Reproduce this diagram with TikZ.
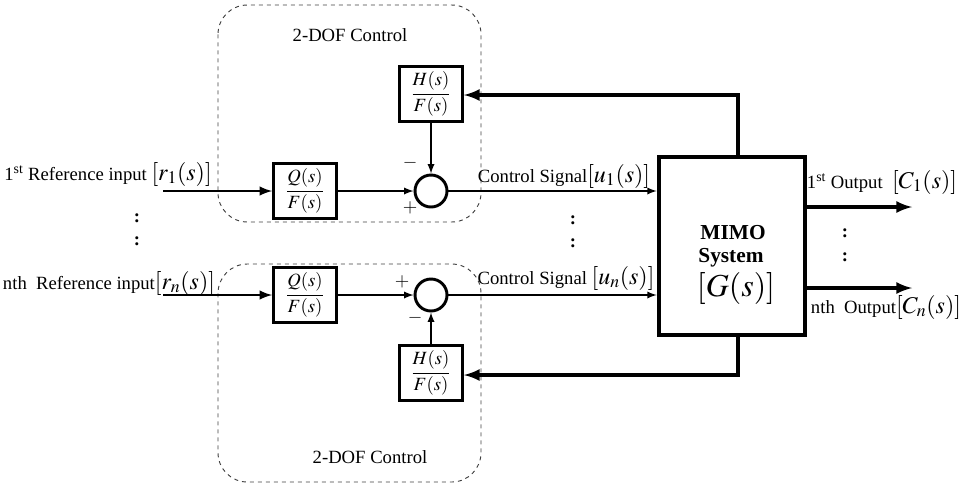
\documentclass[tikz,border=0pt]{standalone}
\usepackage{amsmath}
\usepackage{mathptmx}
\usepackage[no-math]{fontspec}
\setmainfont{Liberation Serif}
\usetikzlibrary{arrows,shapes,positioning}
\newcommand{\sigbr}[1]{{\fontsize{18}{20}\selectfont$[#1]$}}

\begin{document}
\begin{tikzpicture}[x=0.75pt,y=-0.75pt,font=\fontsize{14}{16}\selectfont]
    \tikzstyle{block}=[rectangle, draw, line width=2.4pt, minimum width=47pt, minimum height=41pt, inner sep=0pt]
    \tikzstyle{sum}=[circle, draw, line width=2.2pt, minimum size=24pt, inner sep=0pt]
    \tikzstyle{sys}=[rectangle, draw, line width=3pt, minimum width=110pt, minimum height=134pt]
    \tikzstyle{frame}=[dashed, line width=0.7pt, draw=black!75, rounded corners=22pt]
    \tikzstyle{connect}=[-latex, line width=1.4pt]
    \tikzstyle{thickconnect}=[-latex, line width=2.2pt]
    \tikzstyle{fbconnect}=[-latex, line width=3pt]
    \tikzstyle{txt}=[inner sep=1pt]
    \useasboundingbox (0,0) rectangle (960,490);
    % dashed controller frames
    \draw[frame] (218,5) rectangle (481,222);
    \draw[frame] (218,264) rectangle (481,482);
    \node[txt] (dof1) at (350,35) {2-DOF Control};
    \node[txt] (dof2) at (370,457) {2-DOF Control};
    % first channel
    \node[block] (q1) at (305,191) [label=center:$\dfrac{Q(s)}{F(s)}$] {};
    \node[sum] (s1) at (431,191) {};
    \node[block] (h1) at (431,94) [label=center:$\dfrac{H(s)}{F(s)}$] {};
    \coordinate (in1) at (163,191);
    % nth channel
    \node[block] (qn) at (305,295) [label=center:$\dfrac{Q(s)}{F(s)}$] {};
    \node[sum] (sn) at (431,295) {};
    \node[block] (hn) at (431,373) [label=center:$\dfrac{H(s)}{F(s)}$] {};
    \coordinate (inn) at (163,295);
    % plant
    \node[sys] (mimo) at (732,246) {};
    \node[txt, font=\fontsize{16}{20}\selectfont\bfseries] (mimo1) at (733,233) {MIMO};
    \node[txt, font=\fontsize{16}{20}\selectfont\bfseries] (mimo2) at (731,258) {System};
    \node[txt, font=\fontsize{24}{26}\selectfont] (mimo3) at (736,288) {$[G(s)]$};
    \coordinate (fb1) at (738,95);
    \coordinate (fbn) at (738,375);
    \coordinate (out1) at (912,207);
    \coordinate (outn) at (912,288);
    % labels
    \node[txt] (ref1) at (108,174) {1\textsuperscript{st} Reference input \sigbr{r_1(s)}};
    \node[txt] (refn) at (109,283) {nth~ Reference input\sigbr{r_n(s)}};
    \node[txt] (u1) at (564,176) {Control Signal\sigbr{u_1(s)}};
    \node[txt] (un) at (566,278) {Control Signal \sigbr{u_n(s)}};
    \node[txt] (c1) at (882,182) {1\textsuperscript{st} Output~ \sigbr{C_1(s)}};
    \node[txt] (cn) at (886,307) {nth~ Output\sigbr{C_n(s)}};
    \node[txt] (m1) at (410,163) {$-$};
    \node[txt] (p1) at (410,208) {$+$};
    \node[txt] (pn) at (402,282) {$+$};
    \node[txt] (mn) at (415,318) {$-$};
    \node[txt] (dl1) at (137,218) {\textbf{:}};
    \node[txt] (dl2) at (137,241) {\textbf{:}};
    \node[txt] (dc1) at (573,220) {\textbf{:}};
    \node[txt] (dc2) at (573,243) {\textbf{:}};
    \node[txt] (dr1) at (845,233) {\textbf{:}};
    \node[txt] (dr2) at (845,257) {\textbf{:}};
    % signal paths
    \path (in1) edge [thickconnect] (q1)
    (inn) edge [thickconnect] (qn)
    (q1) edge [connect] (s1)
    (qn) edge [connect] (sn)
    (h1) edge [connect] (s1)
    (hn) edge [connect] (sn)
    (s1) edge [connect] (s1 -| mimo.west)
    (sn) edge [connect] (sn -| mimo.west)
    (mimo.east |- out1) edge [fbconnect] (out1)
    (mimo.east |- outn) edge [fbconnect] (outn);
    \draw[fbconnect] (mimo.north -| fb1) -- (fb1) -- (fb1 -| h1.east);
    \draw[fbconnect] (mimo.south -| fbn) -- (fbn) -- (fbn -| hn.east);
\end{tikzpicture}
\end{document}
